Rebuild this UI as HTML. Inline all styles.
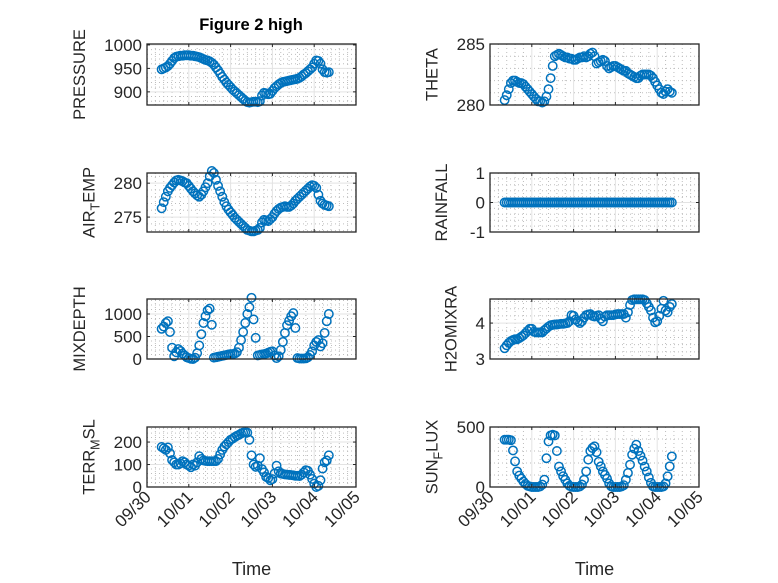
<!DOCTYPE html>
<html><head><meta charset="utf-8"><style>
body{margin:0;background:#fff;}
svg{display:block;font-family:"Liberation Sans","DejaVu Sans",sans-serif;}
</style></head><body>
<svg id="fig" width="778" height="583" viewBox="0 0 778 583" xmlns="http://www.w3.org/2000/svg">
<rect width="778" height="583" fill="#fff"/>
<text x="251" y="30" text-anchor="middle" font-size="16.5" font-weight="bold" fill="#000">Figure 2 high</text>
</svg>
<script>
const xTickLabels = ["09/30","10/01","10/02","10/03","10/04","10/05"];
const pressure = [948,950,952,955,960,966,972,975,976,977,977,978,978,978,977,977,976,975,974,972,970,968,967,965,962,958,952,946,939,932,926,920,915,910,905,901,897,893,889,885,881,878,877,878,879,879,878,880,892,898,897,895,896,902,908,912,916,919,921,922,923,924,925,926,927,928,930,933,937,940,944,948,952,960,967,966,960,948,942,941,942];
const airTemp = [276.3,277.2,278.0,278.8,279.3,279.7,280.1,280.4,280.5,280.4,280.3,280.1,280.0,279.6,279.2,278.8,278.5,278.2,278.0,278.3,278.8,279.4,280.0,281.0,281.8,281.5,280.5,279.6,278.8,278.0,277.2,276.6,276.1,275.7,275.3,274.9,274.6,274.3,274.0,273.7,273.4,273.1,273.0,272.9,272.9,273.0,273.1,273.4,274.2,274.6,274.5,274.4,274.7,275.0,275.5,275.9,276.2,276.4,276.5,276.6,276.5,276.5,276.7,277.0,277.4,277.7,278.0,278.3,278.6,278.9,279.2,279.5,279.7,279.6,279.3,278.3,277.4,277.0,276.8,276.7,276.6];
const theta = [280.4,280.8,281.3,281.8,282.0,282.0,281.9,281.8,281.8,281.7,281.5,281.3,281.1,280.9,280.7,280.5,280.3,280.3,280.2,280.3,280.7,281.3,282.2,283.2,284.0,284.1,284.2,284.1,284.0,283.9,283.9,283.8,283.8,283.7,283.7,283.8,283.9,283.9,284.0,283.9,284.0,284.2,284.3,284.0,283.4,283.5,283.6,283.7,283.6,283.2,283.0,283.1,283.2,283.2,283.1,283.0,282.9,282.8,282.8,282.6,282.5,282.4,282.3,282.2,282.2,282.4,282.5,282.5,282.5,282.5,282.4,282.2,281.9,281.6,281.3,281.0,280.9,281.1,281.3,281.1,281.0];
const rainfall = [0,0,0,0,0,0,0,0,0,0,0,0,0,0,0,0,0,0,0,0,0,0,0,0,0,0,0,0,0,0,0,0,0,0,0,0,0,0,0,0,0,0,0,0,0,0,0,0,0,0,0,0,0,0,0,0,0,0,0,0,0,0,0,0,0,0,0,0,0,0,0,0,0,0,0,0,0,0,0,0,0];
const mixDepth = [670,720,800,840,600,250,60,150,220,180,120,80,40,20,5,0,30,130,300,550,800,950,1080,1120,760,30,40,50,60,70,80,90,100,110,110,120,150,250,420,600,800,1000,1150,1360,880,470,80,90,100,110,120,140,160,170,80,20,60,200,380,580,750,850,950,1020,690,20,10,10,10,15,40,90,170,300,380,420,280,350,580,840,1000];
const h2oMix = [3.30,3.38,3.45,3.50,3.53,3.55,3.55,3.58,3.62,3.66,3.72,3.78,3.84,3.84,3.76,3.74,3.74,3.74,3.74,3.80,3.85,3.90,3.94,3.95,3.96,3.96,3.97,3.98,3.98,3.99,4.00,4.05,4.22,4.20,4.10,4.05,4.00,4.05,4.15,4.22,4.24,4.25,4.20,4.18,4.20,4.22,4.12,4.05,4.18,4.22,4.22,4.22,4.22,4.24,4.25,4.25,4.25,4.25,4.15,4.30,4.50,4.64,4.66,4.66,4.66,4.66,4.66,4.64,4.55,4.45,4.35,4.15,4.02,4.05,4.20,4.40,4.62,4.35,4.30,4.45,4.53];
const terrMsl = [178,172,165,176,150,120,110,100,100,105,115,110,100,95,88,100,95,110,137,125,118,116,115,115,115,115,115,125,145,165,180,190,200,210,215,222,228,232,238,242,243,242,210,141,100,90,95,128,80,65,45,40,30,35,60,95,70,60,58,56,55,54,53,52,50,50,49,55,65,75,72,55,36,15,0,5,30,82,110,118,141];
const sunFlux = [394,394,394,390,305,214,130,95,70,45,25,10,5,0,0,0,0,5,20,61,240,380,430,436,430,300,170,130,90,60,30,10,2,0,0,0,5,20,60,130,228,300,325,339,290,210,172,130,100,70,30,5,0,0,0,0,5,15,60,117,186,269,320,353,300,260,220,170,130,80,35,5,0,0,0,0,5,30,89,172,255];
const tStart = 0.35, tStep = 0.05;

const NS = "http://www.w3.org/2000/svg";
const svg = document.getElementById('fig');
function el(tag, attrs, parent){const e=document.createElementNS(NS,tag);for(const k in attrs)e.setAttribute(k,attrs[k]);(parent||svg).appendChild(e);return e;}

const cols=[{x0:147,x1:356},{x0:490,x1:699}];
const rows=[{y0:44,y1:105},{y0:173,y1:232},{y0:299,y1:359},{y0:427,y1:487}];
const panels=[
 {name:'pressure',col:0,row:0,data:pressure,ylim:[872,1002],ticks:[900,950,1000],minor:10,label:['PRESSURE']},
 {name:'theta',col:1,row:0,data:theta,ylim:[280,285],ticks:[280,285],minor:1,label:['THETA']},
 {name:'air-temp',col:0,row:1,data:airTemp,ylim:[272.8,281.5],ticks:[275,280],minor:1,label:['AIR','T','EMP']},
 {name:'rainfall',col:1,row:1,data:rainfall,ylim:[-1,1],ticks:[-1,0,1],minor:0.2,label:['RAINFALL']},
 {name:'mixdepth',col:0,row:2,data:mixDepth,ylim:[0,1333],ticks:[0,500,1000],minor:100,label:['MIXDEPTH']},
 {name:'h2omixra',col:1,row:2,data:h2oMix,ylim:[3,4.67],ticks:[3,4],minor:0.2,label:['H2OMIXRA']},
 {name:'terr-msl',col:0,row:3,data:terrMsl,ylim:[0,267],ticks:[0,100,200],minor:20,label:['TERR','M','SL']},
 {name:'sun-flux',col:1,row:3,data:sunFlux,ylim:[0,500],ticks:[0,500],minor:100,label:['SUN','F','LUX']},
];

panels.forEach(p=>{
  const c=cols[p.col], r=rows[p.row];
  const g=el('g',{});
  
  
  const xs=t=>c.x0+(t/5)*(c.x1-c.x0);
  const ys=v=>r.y1-(v-p.ylim[0])/(p.ylim[1]-p.ylim[0])*(r.y1-r.y0);
  el('rect',{x:c.x0,y:r.y0,width:c.x1-c.x0,height:r.y1-r.y0,fill:'#fff'},g);
  for(let d=0;d<5;d++)for(let k=1;k<5;k++){const x=xs(d+k/5);el('line',{x1:x,x2:x,y1:r.y0,y2:r.y1,stroke:'#bdbdbd','stroke-width':1,'stroke-dasharray':'1 3'},g);}
  const m0=Math.ceil(p.ylim[0]/p.minor-1e-9);
  for(let k=m0;k*p.minor<=p.ylim[1]+1e-9;k++){const v=k*p.minor;if(p.ticks.some(t=>Math.abs(t-v)<1e-9))continue;const y=ys(v);el('line',{x1:c.x0,x2:c.x1,y1:y,y2:y,stroke:'#bdbdbd','stroke-width':1,'stroke-dasharray':'1 3'},g);}
  for(let d=1;d<5;d++){const x=xs(d);el('line',{x1:x,x2:x,y1:r.y0,y2:r.y1,stroke:'#e3e3e3','stroke-width':1},g);}
  p.ticks.forEach(v=>{const y=ys(v);el('line',{x1:c.x0,x2:c.x1,y1:y,y2:y,stroke:'#e3e3e3','stroke-width':1},g);});
  p.data.forEach((v,i)=>{
    const m=el('circle',{cx:xs(tStart+i*tStep),cy:ys(v),r:4.2,fill:'none',stroke:'#0072BD','stroke-width':1.5},g);
    
    
  });
  el('rect',{x:c.x0,y:r.y0,width:c.x1-c.x0,height:r.y1-r.y0,fill:'none',stroke:'#262626','stroke-width':1.3},g);
  for(let d=0;d<=5;d++){const x=xs(d);el('line',{x1:x,x2:x,y1:r.y1,y2:r.y1-3,stroke:'#262626'},g);el('line',{x1:x,x2:x,y1:r.y0,y2:r.y0+3,stroke:'#262626'},g);}
  p.ticks.forEach(v=>{const y=ys(v);el('line',{x1:c.x0,x2:c.x0+3,y1:y,y2:y,stroke:'#262626'},g);el('line',{x1:c.x1,x2:c.x1-3,y1:y,y2:y,stroke:'#262626'},g);
    const t=el('text',{x:c.x0-5,y:y+6,'text-anchor':'end','font-size':17,fill:'#262626'},g);t.textContent=String(v);
    
    
  });
  let maxW=Math.max(...p.ticks.map(v=>String(v).length));
  const lx=c.x0-5-maxW*9.5-19, ly=(r.y0+r.y1)/2;
  const lab=el('text',{x:0,y:0,transform:`translate(${lx},${ly}) rotate(-90)`,'text-anchor':'middle','font-size':16.5,fill:'#262626'},g);
  
  
  if(p.label.length===1){lab.textContent=p.label[0];}
  else{const a=el('tspan',{},lab);a.textContent=p.label[0];const b=el('tspan',{dy:5,'font-size':12.5},lab);b.textContent=p.label[1];const cc=el('tspan',{dy:-5},lab);cc.textContent=p.label[2];}
  if(p.row===3){
    xTickLabels.forEach((s,d)=>{const x=xs(d);const t=el('text',{x:0,y:0,transform:`translate(${x+5},${r.y1+11}) rotate(-45)`,'text-anchor':'end','font-size':17,fill:'#262626'},g);t.textContent=s;
      
      });
    const xt=el('text',{x:(c.x0+c.x1)/2,y:575,'text-anchor':'middle','font-size':18,fill:'#262626'},g);xt.textContent='Time';
    
    
  }
});
</script>
</body></html>
